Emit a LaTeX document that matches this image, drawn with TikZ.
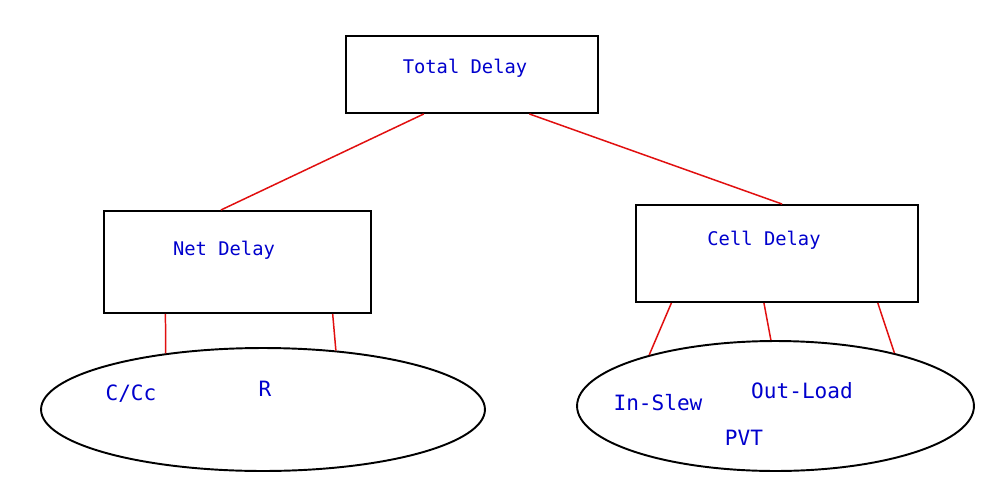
\documentclass[tikz,border=0pt]{standalone}
\usepackage{fontspec}
\setmonofont{DejaVu Sans Mono}
\usetikzlibrary{calc,shapes.geometric}
\definecolor{lblue}{RGB}{0,0,205}
\definecolor{lred}{RGB}{225,15,15}

\begin{document}
\begin{tikzpicture}[x=0.02cm,y=-0.02cm,
	box/.style={draw=black,line width=1.1pt,inner sep=0pt,rectangle},
	blob/.style={draw=black,line width=1.1pt,inner sep=0pt,ellipse},
	lbl/.style={text=lblue,font=\ttfamily\fontsize{10.7}{12}\selectfont,inner sep=0pt},
	val/.style={text=lblue,font=\ttfamily\fontsize{12}{14}\selectfont,inner sep=0pt},
	wire/.style={draw=lred,line width=0.85pt}]
			%%%%% START %%%%%
			
			\fill[white] (0, 0) rectangle (987, 487);
			\useasboundingbox (0, 0) rectangle (987, 487);
			
			% boxes
			\node[box, minimum width=5.04cm, minimum height=1.54cm] (total) at (472, 74.5) {};
			\node[box, minimum width=5.34cm, minimum height=2.04cm] (net) at (237.5, 262) {};
			\node[box, minimum width=5.64cm, minimum height=1.94cm] (cell) at (777, 253.5) {};
			
			\node[lbl] (totallbl) at (465, 68.5) {Total Delay};
			\node[lbl] (netlbl) at (224, 250.5) {Net Delay};
			\node[lbl] (celllbl) at (764, 240.5) {Cell Delay};
			
			% ellipses
			\node[blob, minimum width=8.88cm, minimum height=2.46cm] (netvals) at (263, 409.5) {};
			\node[blob, minimum width=7.94cm, minimum height=2.6cm] (cellvals) at (775.5, 406) {};
			
			\node[val] (cc) at (131, 394) {C/Cc};
			\node[val] (r) at (265, 389) {R};
			\node[val] (slew) at (658, 403) {In-Slew};
			\node[val] (load) at (802, 391) {Out-Load};
			\node[val] (pvt) at (744, 438) {PVT};
			
			% wires
			\draw[wire] ($(total.south west)!0.31!(total.south east)$) -- ($(net.north west)!0.438!(net.north east)$);
			\draw[wire] ($(total.south west)!0.726!(total.south east)$) -- ($(cell.north west)!0.518!(cell.north east)$);
			
			\draw[wire] ($(net.south west)!0.232!(net.south east)$) -- (netvals.150.5);
			\draw[wire] ($(net.south west)!0.854!(net.south east)$) -- (netvals.39.5);
			
			\draw[wire] ($(cell.south west)!0.128!(cell.south east)$) -- (cellvals.158.4);
			\draw[wire] ($(cell.south west)!0.454!(cell.south east)$) -- (cellvals.94.8);
			\draw[wire] ($(cell.south west)!0.855!(cell.south east)$) -- (cellvals.24.9);
			
			%%%%% END %%%%%
\end{tikzpicture}
\end{document}
